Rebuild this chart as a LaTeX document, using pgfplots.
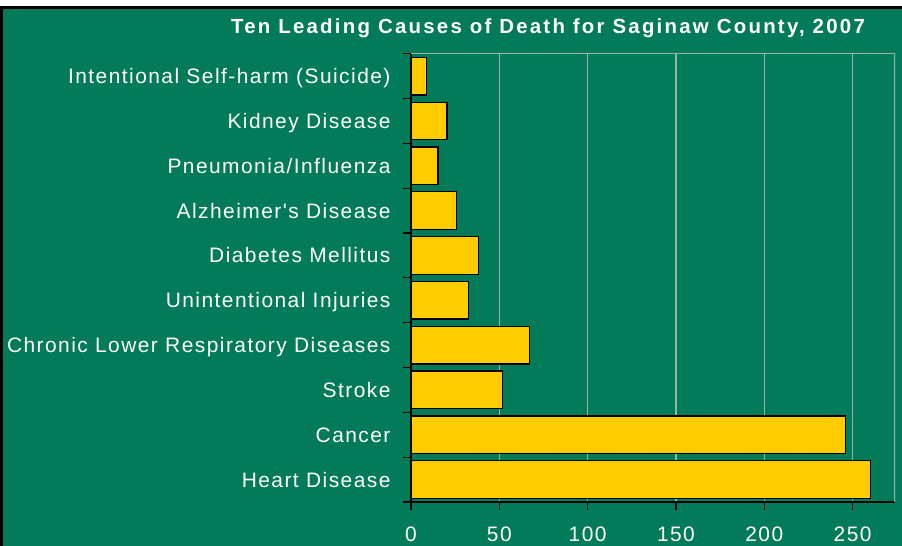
\documentclass[border=0pt]{standalone}
\usepackage{pgfplots}
\pgfplotsset{compat=1.18}
\usepackage{fontspec}
\setmainfont{Liberation Sans}
\newfontfamily\labfont[LetterSpace=7]{Liberation Sans}
\newfontfamily\titfont[LetterSpace=11]{Liberation Sans}
\definecolor{bgg}{RGB}{3,122,88}
\definecolor{baryel}{RGB}{255,204,0}
\definecolor{gridg}{RGB}{150,180,165}
\begin{document}
\begin{tikzpicture}[x=1bp,y=1bp]
\useasboundingbox (0,0) rectangle (902,546);
\fill[white] (0,0) rectangle (902,546);
\fill[bgg] (0,0) rectangle (902,538);
\draw[black, line width=3bp] (1.5,0) -- (1.5,538) -- (902,538);
\node[anchor=base, text=white] at (548,512.7) {\titfont\fontsize{20.5}{23}\selectfont\bfseries Ten Leading Causes of Death for Saginaw County, 2007};
\begin{axis}[
  at={(411bp,44bp)}, anchor=south west,
  scale only axis, width=484bp, height=448.3bp,
  xmin=0, xmax=274, ymin=-0.5, ymax=9.5,
  xbar, bar width=0.84,
  axis x line*=bottom, axis y line*=left,
  axis line style={-, black, line width=1.3bp},
  xtick={0,50,...,250},
  tick align=outside,
  major tick length=8bp,
  xmajorgrids, major grid style={gridg, line width=1.2bp},
  x tick style={black, line width=1.3bp},
  xticklabel style={text=white, font=\labfont\fontsize{21}{23}\selectfont, yshift=-13bp},
  /pgf/number format/assume math mode=true,
  ytick={0,...,9},
  yticklabels={Heart Disease,Cancer,Stroke,Chronic Lower Respiratory Diseases,Unintentional Injuries,Diabetes Mellitus,Alzheimer's Disease,Pneumonia/Influenza,Kidney Disease,Intentional Self-harm (Suicide)},
  y tick style={draw=none},
  yticklabel style={text=white, font=\labfont\fontsize{21}{23}\selectfont, anchor=east, text height=15bp, text depth=0bp, xshift=-9bp},
  extra y ticks={-0.5,0.5,...,9.5},
  extra y tick labels={},
  extra y tick style={y tick style={draw=black, line width=1.3bp}},
]
\addplot[draw=black, fill=baryel, line width=1.2bp] coordinates {
(260,0) (246,1) (51.6,2) (67,3) (32.4,4) (38,5) (25.6,6) (15.3,7) (20.4,8) (8.9,9)
};
\draw[gridg, line width=1.2bp] (rel axis cs:0,1) -- (rel axis cs:1,1) -- (rel axis cs:1,0);
\end{axis}
\end{tikzpicture}
\end{document}
